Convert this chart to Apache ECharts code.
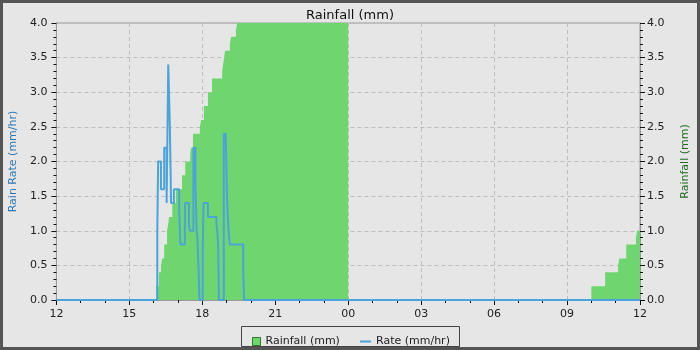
<!DOCTYPE html>
<html><head><meta charset="utf-8">
<script src="https://cdn.jsdelivr.net/npm/echarts@6/dist/echarts.min.js"></script>
<style>html,body{margin:0;padding:0;background:#e6e6e6}#c{width:700px;height:350px}</style>
</head><body><div id="c"></div>
<script>
// X-axis tick labels (every 3 hours, starting 12:00)
const xTickLabels = ['12','15','18','21','00','03','06','09','12'];

// Rain rate (mm/hr), step series: value starts at the given time
const rateTimes = ['12:00','16:09','16:11','16:18','16:26','16:32','16:34','16:36','16:40','16:43',
  '16:50','17:03','17:04','17:06','17:17','17:27','17:29','17:38','17:43','17:46',
  '17:48','17:51','17:53','18:01','18:03','18:14','18:35','18:37','18:39','18:41',
  '18:53','18:58','19:01','19:03','19:06','19:08','19:41','19:43','12:00'];
const rateValues = [0,1.0,2.0,1.6,2.2,1.4,2.4,3.4,2.5,1.4,
  1.6,1.3,1.1,0.8,1.4,1.1,1.0,2.2,1.7,1.0,
  0.9,0.4,0,0.7,1.4,1.2,1.1,1.0,0.8,0,
  2.4,2.3,1.5,1.2,0.9,0.8,0.4,0,0];

// Rainfall accumulation (mm), step series
const rainTimes = ['12:00','16:06','16:13','16:18','16:21','16:26','16:33','16:36','16:38','16:46',
  '16:55','17:10','17:18','17:30','17:32','17:37','17:54','17:57','18:04','18:14',
  '18:24','18:49','18:51','18:54','18:56','19:08','19:11','19:23','19:26','00:00',
  '10:00','10:34','11:06','11:09','11:26','11:50','11:53','12:00'];
const rainValues = [0,0.2,0.4,0.5,0.6,0.8,1.0,1.1,1.2,1.4,
  1.6,1.8,2.0,2.1,2.2,2.4,2.5,2.6,2.8,3.0,
  3.2,3.3,3.4,3.5,3.6,3.7,3.8,3.9,4.0,0,
  0.2,0.4,0.5,0.6,0.8,0.9,1.0,1.0];

function toHours(times){
  let prev = -1;
  return times.map(t => {
    const [H, M] = t.split(':').map(Number);
    let m = H*60 + M - 720;
    if (m < 0) m += 1440;
    if (m < prev) m += 1440;
    prev = m;
    return m/60;
  });
}
const rateX = toHours(rateTimes), rainX = toHours(rainTimes);
const rateData = rateX.map((x,i)=>[x, rateValues[i]]);
const rainData = rainX.map((x,i)=>[x, rainValues[i]]);

const FONT = 'DejaVu Sans';
const GREEN = '#6fd66f', BLUE = '#4ba3dc';
const chart = echarts.init(document.getElementById('c'), null, {renderer:'canvas'});
const yAxisCommon = {
  type:'value', min:0, max:4, interval:0.5,
  axisLine:{show:true, lineStyle:{color:'#999', width:1}},
  axisTick:{show:true, length:5, lineStyle:{color:'#111'}},
  minorTick:{show:true, splitNumber:5, length:3, lineStyle:{color:'#111'}},
  nameLocation:'middle', nameRotate:90
};
chart.setOption({
  backgroundColor:'#e6e6e6',
  animation:false,
  title:{text:'Rainfall (mm)', left:'center', top:4,
    textStyle:{fontFamily:FONT, fontSize:13, fontWeight:'normal', color:'#111'}},
  grid:{left:55, right:60, top:23, bottom:50, show:true, borderColor:'#999', borderWidth:1, backgroundColor:'transparent'},
  graphic:[
    {type:'rect', shape:{x:1.5, y:1.5, width:697, height:347}, style:{fill:null, stroke:'#555', lineWidth:3}, silent:true, z:100},
    {type:'rect', shape:{x:241.5, y:326.5, width:218, height:20}, style:{fill:'#e6e6e6', stroke:'#444', lineWidth:1}, silent:true, z:0}
  ],
  legend:[
    {data:[{name:'Rainfall (mm)', icon:'rect', itemStyle:{borderColor:'#2f7a2f', borderWidth:1}}],
     left:247, top:331, itemWidth:8, itemHeight:8, itemGap:10,
     textStyle:{fontFamily:FONT, fontSize:11, color:'#222'}},
    {data:[{name:'Rate (mm/hr)', icon:'rect'}],
     left:355, top:331, itemWidth:11, itemHeight:2,
     textStyle:{fontFamily:FONT, fontSize:11, color:'#222'}}
  ],
  xAxis:{
    type:'value', min:0, max:24, interval:3,
    axisLine:{show:true, lineStyle:{color:'#999'}},
    axisTick:{show:true, length:5, lineStyle:{color:'#111'}},
    minorTick:{show:true, splitNumber:3, length:3, lineStyle:{color:'#111'}},
    axisLabel:{color:'#222', fontFamily:FONT, fontSize:11, margin:9,
      formatter:v=>xTickLabels[Math.round(v/3)]},
    splitLine:{show:true, lineStyle:{color:'#bdbdbd', type:[4,3], width:1}}
  },
  yAxis:[
    Object.assign({}, yAxisCommon, {position:'left', name:'Rain Rate (mm/hr)', nameGap:36,
      axisLabel:{color:'#222', fontFamily:FONT, fontSize:11, margin:9, formatter:v=>v.toFixed(1)},
      nameTextStyle:{fontFamily:FONT, fontSize:11, color:'#2a7ab8'},
      splitLine:{show:true, lineStyle:{color:'#bdbdbd', type:[4,3], width:1}}}),
    Object.assign({}, yAxisCommon, {position:'right', name:'Rainfall (mm)', nameGap:40,
      axisLabel:{color:'#222', fontFamily:FONT, fontSize:11, margin:7, formatter:v=>v.toFixed(1)},
      nameTextStyle:{fontFamily:FONT, fontSize:11, color:'#1d6b1d'},
      splitLine:{show:false}})
  ],
  series:[
    {name:'Rainfall (mm)', type:'line', yAxisIndex:1, step:'end', data:rainData,
     showSymbol:false, symbol:'none', lineStyle:{width:0, color:GREEN}, itemStyle:{color:GREEN},
     areaStyle:{color:GREEN, opacity:1}, z:2},
    {name:'Rate (mm/hr)', type:'line', yAxisIndex:0, step:'end', data:rateData,
     showSymbol:false, symbol:'none', lineStyle:{width:2, color:BLUE}, itemStyle:{color:BLUE}, z:3}
  ]
});
</script></body></html>
